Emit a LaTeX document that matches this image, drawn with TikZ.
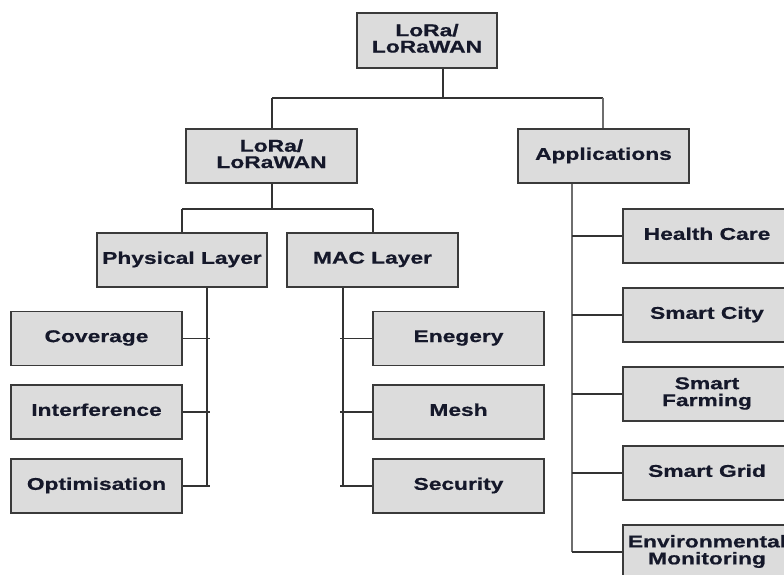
\documentclass[tikz,border=0pt]{standalone}
\usepackage{fontspec}
\usepackage{graphicx}
\setmainfont{Liberation Sans}[BoldFeatures={FakeBold=0.6}]
\definecolor{boxfill}{HTML}{DCDCDC}
\definecolor{boxline}{HTML}{3A3A3A}
\definecolor{txt}{HTML}{15182A}
\definecolor{trunk}{HTML}{6E6E6E}
\newcommand\wt[1]{\scalebox{1.34}[1]{\begin{tabular}{@{}c@{}}#1\end{tabular}}}
\begin{document}
\begin{tikzpicture}[x=1pt,y=-1pt,
  box/.style={draw=boxline,fill=boxfill,line width=1.7pt,rectangle,inner sep=0pt,
    text=txt,font=\fontsize{17}{15.5}\selectfont\bfseries},
  conn/.style={draw=black!80,line width=1.3pt},
  thick trunk/.style={draw=trunk,line width=2.8pt}]
\clip (0,0) rectangle (784,575);
\fill[white] (0,0) rectangle (784,575);
% nodes
\node[box,minimum width=140pt,minimum height=55pt] (top) at (427,40.5) {\wt{LoRa/\\LoRaWAN}};
\node[box,minimum width=171pt,minimum height=54pt] (lora) at (271.5,156) {\wt{LoRa/\\LoRaWAN}};
\node[box,minimum width=171pt,minimum height=54pt] (apps) at (603.5,156) {\wt{Applications}};
\node[box,minimum width=170pt,minimum height=54pt] (phy) at (182,260) {\wt{Physical Layer}};
\node[box,minimum width=171pt,minimum height=54pt] (mac) at (372.5,260) {\wt{MAC Layer}};
\node[box,minimum width=171pt,minimum height=54pt] (cov) at (96.5,338.5) {\wt{Coverage}};
\node[box,minimum width=171pt,minimum height=54pt] (intf) at (96.5,412) {\wt{Interference}};
\node[box,minimum width=171pt,minimum height=54pt] (opt) at (96.5,486) {\wt{Optimisation}};
\node[box,minimum width=171pt,minimum height=54pt] (ene) at (458.5,338.5) {\wt{Enegery}};
\node[box,minimum width=171pt,minimum height=54pt] (mesh) at (458.5,412) {\wt{Mesh}};
\node[box,minimum width=171pt,minimum height=54pt] (sec) at (458.5,486) {\wt{Security}};
\node[box,minimum width=168pt,minimum height=54pt] (hc) at (707,236) {\wt{Health Care}};
\node[box,minimum width=168pt,minimum height=54pt] (sc) at (707,315) {\wt{Smart City}};
\node[box,minimum width=168pt,minimum height=54pt] (sf) at (707,394) {\wt{Smart\\Farming}};
\node[box,minimum width=168pt,minimum height=54pt] (sg) at (707,473) {\wt{Smart Grid}};
\node[box,minimum width=168pt,minimum height=54pt] (env) at (707,552) {\wt{Environmental\\Monitoring}};
% junction coordinates
\coordinate (j0) at (443,98);
\coordinate (jl) at (272,98);
\coordinate (ja) at (603,98);
\coordinate (j1) at (272,209);
\coordinate (jp) at (182,209);
\coordinate (jm) at (373,209);
\coordinate (tp) at (207,0);
\coordinate (tm) at (343,0);
\coordinate (ta) at (572,0);
% top level
\draw[conn] (top.south -| j0) -- (j0);
\draw[conn] (jl) -- (ja);
\draw[conn] (jl) -- (lora.north -| jl);
\draw[thick trunk] (ja) -- (apps.north -| ja);
% second level
\draw[conn] (lora.south -| j1) -- (j1);
\draw[conn] (jp) -- (jm);
\draw[conn] (jp) -- (phy.north -| jp);
\draw[conn] (jm) -- (mac.north -| jm);
% physical layer
\draw[conn] (phy.south -| tp) -- (opt.east -| tp);
\foreach \n in {cov,intf,opt}{\draw[conn] (\n.east) -- ([xshift=3pt]\n.east -| tp);}
% MAC layer
\draw[conn] (mac.south -| tm) -- (sec.west -| tm);
\foreach \n in {ene,mesh,sec}{\draw[conn] (\n.west) -- ([xshift=-3pt]\n.west -| tm);}
% applications
\draw[thick trunk] (apps.south -| ta) -- (env.west -| ta);
\foreach \n in {hc,sc,sf,sg,env}{\draw[conn] (\n.west) -- (\n.west -| ta);}
\end{tikzpicture}
\end{document}
